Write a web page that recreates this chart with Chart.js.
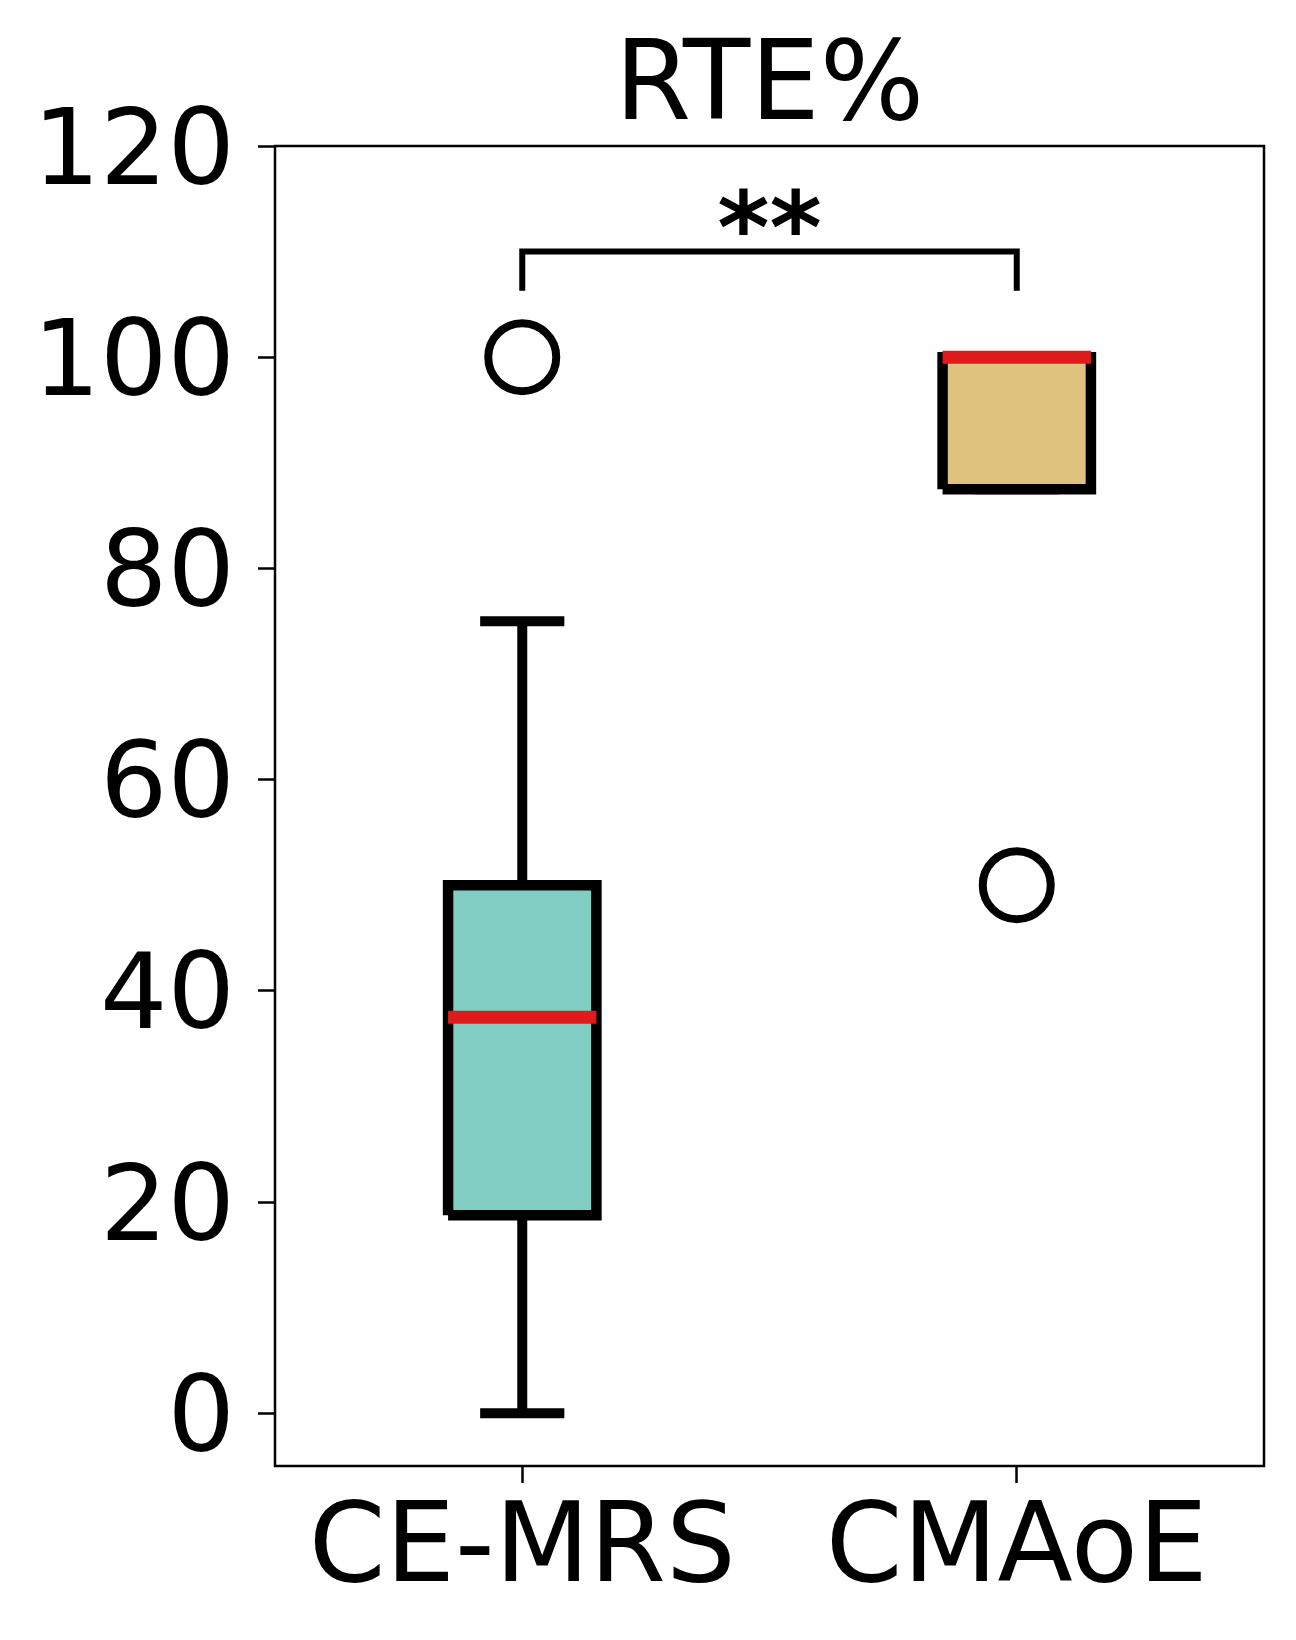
<!DOCTYPE html>
<html>
<head>
<meta charset="utf-8">
<title>RTE%</title>
<script src="https://cdn.jsdelivr.net/npm/chart.js@4.4.1/dist/chart.umd.min.js"></script>
<style>
  html, body { margin: 0; padding: 0; background: #fff; }
  canvas { display: block; }
</style>
</head>
<body>
<canvas id="boxChart" width="1296" height="1640"></canvas>
<script>
// Box plot statistics
const categories = ['CE-MRS', 'CMAoE'];
const positions = [1, 2];
const whiskerLow = [0, 87.5];
const q1 = [18.75, 87.5];
const medians = [37.5, 100];
const q3 = [50, 100];
const whiskerHigh = [75, 100];
const outliers = [[100], [50]];
const yTicks = [0, 20, 40, 60, 80, 100, 120];

// significance bracket between the two groups
const sigPair = [1, 2];
const sigY = 110;
const sigLegY = 106.3;
const sigLabelY = 113.8;
const sigLabel = '**';

const boxColors = ['#80cdc1', '#dfc27d'];
const medianColor = '#e01b1b';
const halfBox = 0.15;
const halfCap = 0.075;
const FONT = '"DejaVu Sans", sans-serif';

Chart.defaults.font.family = FONT;
Chart.defaults.color = '#000';

function segment(x1, y1, x2, y2, style) {
    return Object.assign({
        type: 'line',
        data: [{x: x1, y: y1}, {x: x2, y: y2}],
        borderColor: '#000',
        borderWidth: 10,
        pointRadius: 0,
        fill: false,
        tension: 0
    }, style);
}

const datasets = [];

// box fills
datasets.push({
    type: 'bar',
    data: positions.map((p, i) => ({x: p, y: [q1[i], q3[i]]})),
    backgroundColor: boxColors,
    borderWidth: 0,
    barThickness: 148,
    grouped: false,
    order: 6
});

positions.forEach((p, i) => {
    // box outline
    datasets.push({
        type: 'line',
        data: [
            {x: p - halfBox, y: q1[i]}, {x: p + halfBox, y: q1[i]},
            {x: p + halfBox, y: q3[i]}, {x: p - halfBox, y: q3[i]},
            {x: p - halfBox, y: q1[i]}
        ],
        borderColor: '#000',
        borderWidth: 10.5,
        borderJoinStyle: 'miter',
        pointRadius: 0,
        fill: false,
        tension: 0,
        order: 5
    });
    // whiskers and caps
    datasets.push(segment(p, q1[i], p, whiskerLow[i], {order: 4}));
    datasets.push(segment(p, q3[i], p, whiskerHigh[i], {order: 4}));
    datasets.push(segment(p - halfCap, whiskerLow[i], p + halfCap, whiskerLow[i], {order: 3, borderCapStyle: 'square'}));
    datasets.push(segment(p - halfCap, whiskerHigh[i], p + halfCap, whiskerHigh[i], {order: 3, borderCapStyle: 'square'}));
    // median
    datasets.push(segment(p - halfBox, medians[i], p + halfBox, medians[i], {order: 2, borderColor: medianColor, borderWidth: 13}));
});

// fliers
datasets.push({
    type: 'scatter',
    data: positions.flatMap((p, i) => outliers[i].map(v => ({x: p, y: v}))),
    pointRadius: 34,
    pointBorderWidth: 8,
    pointBorderColor: '#000',
    pointBackgroundColor: 'rgba(0,0,0,0)',
    order: 1
});

// bracket
datasets.push({
    type: 'line',
    data: [
        {x: sigPair[0], y: sigLegY}, {x: sigPair[0], y: sigY},
        {x: sigPair[1], y: sigY}, {x: sigPair[1], y: sigLegY}
    ],
    borderColor: '#000',
    borderWidth: 6,
    borderJoinStyle: 'miter',
    pointRadius: 0,
    fill: false,
    tension: 0,
    order: 1
});

const frameAndStars = {
    id: 'frameAndStars',
    afterDraw(chart) {
        const {ctx, chartArea: a, scales: {x, y}} = chart;
        ctx.save();
        ctx.strokeStyle = '#000';
        ctx.lineWidth = 2.5;
        ctx.strokeRect(a.left, a.top, a.right - a.left, a.bottom - a.top);

        ctx.font = 'bold 100px ' + FONT;
        ctx.textAlign = 'center';
        ctx.textBaseline = 'alphabetic';
        ctx.fillStyle = '#000';
        const m = ctx.measureText(sigLabel);
        const cx = (x.getPixelForValue(sigPair[0]) + x.getPixelForValue(sigPair[1])) / 2;
        const cy = y.getPixelForValue(sigLabelY);
        ctx.fillText(sigLabel, cx, cy + (m.actualBoundingBoxAscent - m.actualBoundingBoxDescent) / 2);
        ctx.restore();
    }
};

new Chart(document.getElementById('boxChart').getContext('2d'), {
    type: 'bar',
    data: {datasets: datasets},
    plugins: [frameAndStars],
    options: {
        responsive: false,
        animation: false,
        layout: {autoPadding: false, padding: {left: 0, right: 32, top: 0, bottom: 0}},
        plugins: {
            legend: {display: false},
            tooltip: {enabled: false},
            title: {
                display: true,
                text: 'RTE%',
                fullSize: false,
                color: '#000',
                font: {size: 110, weight: 'normal', lineHeight: 1},
                padding: {top: 35, bottom: 1}
            }
        },
        scales: {
            x: {
                type: 'linear',
                min: 0.5,
                max: 2.5,
                offset: false,
                afterBuildTicks: scale => { scale.ticks = positions.map(v => ({value: v})); },
                afterFit: scale => {
                    scale.height = 174;
                    scale.paddingLeft = 0;
                    scale.paddingRight = 0;
                },
                grid: {display: true, offset: false, drawOnChartArea: false, drawTicks: true, tickLength: 17, tickColor: '#000', tickWidth: 2.5},
                border: {display: false},
                ticks: {
                    autoSkip: false,
                    maxRotation: 0,
                    padding: 14,
                    color: '#000',
                    font: {size: 110, lineHeight: 1},
                    callback: v => categories[positions.indexOf(v)]
                }
            },
            y: {
                type: 'linear',
                min: -5,
                max: 120,
                afterBuildTicks: scale => { scale.ticks = yTicks.map(v => ({value: v})); },
                afterFit: scale => { scale.width = 275; },
                grid: {display: true, offset: false, drawOnChartArea: false, drawTicks: true, tickLength: 17, tickColor: '#000', tickWidth: 2.5},
                border: {display: false},
                ticks: {
                    padding: 23,
                    labelOffset: 10,
                    color: '#000',
                    font: {size: 106, lineHeight: 1}
                }
            }
        }
    }
});
</script>
</body>
</html>
